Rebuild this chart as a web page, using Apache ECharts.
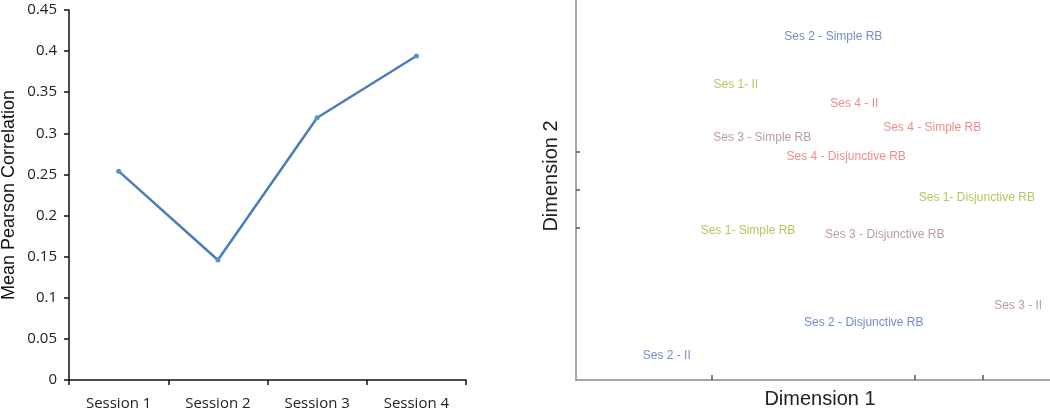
<!DOCTYPE html>
<html>
<head>
<meta charset="utf-8">
<script src="https://cdn.jsdelivr.net/npm/echarts@6/dist/echarts.min.js"></script>
<style>
  html, body { margin: 0; padding: 0; background: #fff; }
  #chart { width: 1050px; height: 411px; }
</style>
</head>
<body>
<div id="chart"></div>
<script>
// left panel: mean correlation per session
const sessions = ['Session 1', 'Session 2', 'Session 3', 'Session 4'];
const meanCorrelation = [0.254, 0.146, 0.319, 0.394];

// right panel: MDS label positions, one list per session [dim1, dim2, label]
const ses1Points = [
  [2.36, 7.82, 'Ses 1- II'],
  [5.92, 4.84, 'Ses 1- Disjunctive RB'],
  [2.54, 3.97, 'Ses 1- Simple RB'],
];
const ses2Points = [
  [3.80, 9.08, 'Ses 2 - Simple RB'],
  [4.25, 1.55, 'Ses 2 - Disjunctive RB'],
  [1.34, 0.68, 'Ses 2 - II'],
];
const ses3Points = [
  [2.75, 6.42, 'Ses 3 - Simple RB'],
  [4.56, 3.87, 'Ses 3 - Disjunctive RB'],
  [6.53, 2.00, 'Ses 3 - II'],
];
const ses4Points = [
  [4.11, 7.32, 'Ses 4 - II'],
  [5.26, 6.68, 'Ses 4 - Simple RB'],
  [3.99, 5.92, 'Ses 4 - Disjunctive RB'],
];
const dim1Ticks = [2, 5, 6];
const dim2Ticks = [4, 5, 6];

const SESSION_COLORS = ['#9cbb34', '#4a72b8', '#a88484', '#e8716d'];
const FONT = '"Liberation Sans", Arial, sans-serif';

function labelSeries(points, color) {
  return {
    type: 'scatter',
    xAxisIndex: 1,
    yAxisIndex: 1,
    symbolSize: 1,
    itemStyle: { color: 'rgba(0,0,0,0)' },
    silent: true,
    data: points.map((p) => ({ value: [p[0], p[1]], name: p[2] })),
    label: {
      show: true,
      position: 'inside',
      offset: [0, 2],
      formatter: (params) => params.name,
      color,
      fontFamily: FONT,
      fontSize: 12,
    },
  };
}

const chart = echarts.init(document.getElementById('chart'), null, { renderer: 'canvas' });

chart.setOption({
  animation: false,
  backgroundColor: '#fff',
  grid: [
    { left: 69, top: 10, width: 397, height: 370, outerBoundsMode: 'none' },
    { left: 576, top: 0, right: 0, bottom: 31, outerBoundsMode: 'none' },
  ],
  xAxis: [
    {
      type: 'category',
      gridIndex: 0,
      data: sessions,
      boundaryGap: true,
      axisLine: { lineStyle: { color: '#111', width: 1.5 } },
      axisTick: { show: true, length: 5, lineStyle: { color: '#111', width: 1.5 } },
      axisLabel: {
        color: '#222',
        fontFamily: '"Open Sans", sans-serif',
        fontSize: 15,
        margin: 16,
      },
    },
    {
      type: 'value',
      gridIndex: 1,
      min: 0,
      max: 7,
      interval: 1,
      name: 'Dimension 1',
      nameLocation: 'middle',
      nameGap: 9,
      nameTextStyle: {
        color: '#222',
        fontFamily: FONT,
        fontSize: 20,
        verticalAlign: 'top',
        padding: [0, 0, 0, 14],
      },
      axisLine: { show: true, lineStyle: { color: '#8a8a8a', width: 1.5 } },
      axisTick: { show: true, inside: true, length: 5, customValues: dim1Ticks, lineStyle: { color: '#555', width: 1.5 } },
      axisLabel: { show: false },
      splitLine: { show: false },
    },
  ],
  yAxis: [
    {
      type: 'value',
      gridIndex: 0,
      min: 0,
      max: 0.45,
      interval: 0.05,
      name: 'Mean Pearson Correlation',
      nameLocation: 'middle',
      nameGap: 51,
      nameTextStyle: { color: '#111', fontFamily: FONT, fontSize: 18 },
      axisLine: { show: true, lineStyle: { color: '#111', width: 1.5 } },
      axisTick: { show: true, length: 5, lineStyle: { color: '#111', width: 1.5 } },
      axisLabel: {
        color: '#222',
        fontFamily: '"Open Sans", sans-serif',
        fontSize: 15,
        margin: 12,
      },
      splitLine: { show: false },
    },
    {
      type: 'value',
      gridIndex: 1,
      min: 0,
      max: 10,
      interval: 1,
      name: 'Dimension 2',
      nameLocation: 'middle',
      nameGap: 15,
      nameTextStyle: {
        color: '#222',
        fontFamily: FONT,
        fontSize: 20,
        padding: [0, 0, 0, 28],
      },
      axisLine: { show: true, lineStyle: { color: '#8a8a8a', width: 1.5 } },
      axisTick: { show: true, inside: true, length: 4, customValues: dim2Ticks, lineStyle: { color: '#555', width: 1.5 } },
      axisLabel: { show: false },
      splitLine: { show: false },
    },
  ],
  series: [
    {
      type: 'line',
      xAxisIndex: 0,
      yAxisIndex: 0,
      data: meanCorrelation,
      color: '#4a7ebb',
      lineStyle: { width: 2.5, color: '#4a7ebb' },
      symbol: 'circle',
      symbolSize: 5,
      itemStyle: { color: '#5b8fd0' },
    },
    labelSeries(ses1Points, SESSION_COLORS[0]),
    labelSeries(ses2Points, SESSION_COLORS[1]),
    labelSeries(ses3Points, SESSION_COLORS[2]),
    labelSeries(ses4Points, SESSION_COLORS[3]),
  ],
});
</script>
</body>
</html>
